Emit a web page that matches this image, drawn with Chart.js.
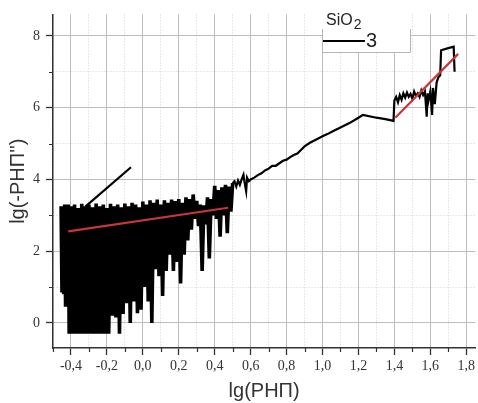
<!DOCTYPE html>
<html>
<head>
<meta charset="utf-8">
<script src="https://cdn.jsdelivr.net/npm/chart.js@4.4.0/dist/chart.umd.min.js"></script>
<style>
  html, body { margin: 0; padding: 0; background: #fff; }
  #wrap { width: 478px; height: 403px; position: relative; }
</style>
</head>
<body>
<div id="wrap"><canvas id="chart"></canvas></div>
<script>
// lg(-RNP'') vs lg(RNP), SiO2 sample 3

const noiseX = [
  -0.455, -0.45, -0.445, -0.44, -0.435, -0.43, -0.425, -0.42,
  -0.415, -0.41, -0.40, -0.39, -0.38, -0.37, -0.36, -0.35, -0.34, -0.33,
  -0.32, -0.31, -0.30, -0.29, -0.28, -0.27, -0.26, -0.25, -0.24, -0.23,
  -0.22, -0.21, -0.20, -0.19, -0.18, -0.17, -0.16, -0.15, -0.14, -0.13,
  -0.12, -0.11, -0.10, -0.09, -0.08, -0.07, -0.06, -0.05, -0.04, -0.03,
  -0.02, -0.01, 0.00, 0.01, 0.02, 0.03, 0.04, 0.05, 0.06, 0.07,
  0.08, 0.09, 0.10, 0.11, 0.12, 0.13, 0.14, 0.15, 0.16, 0.17,
  0.18, 0.19, 0.20, 0.21, 0.22, 0.23, 0.24, 0.25, 0.26, 0.27,
  0.28, 0.29, 0.30, 0.31, 0.32, 0.33, 0.34, 0.35, 0.36, 0.37,
  0.38, 0.39, 0.40, 0.41, 0.42, 0.43, 0.44, 0.45, 0.46, 0.47,
  0.48, 0.49, 0.50
];
const noiseY = [
  3.25, 0.85, 3.2, 0.8, 3.3, 0.45, 3.25, 0.45,
  3.3, -0.3, 3.25, -0.3, 3.3, -0.3, 3.2, -0.3, 3.32, -0.3,
  3.25, -0.3, 3.3, -0.3, 3.22, -0.3, 3.33, -0.3, 3.25, -0.3,
  3.3, -0.3, 3.2, -0.3, 3.32, 0.2, 3.25, 0.15, 3.3, -0.3,
  3.22, 0.25, 3.33, 0.55, 3.25, 0.0, 3.35, 0.6, 3.3, 0.27,
  3.22, 0.37, 3.38, 1.0, 3.3, 0.6, 3.42, 0.0, 3.35, 1.5,
  3.44, 1.3, 3.3, 0.75, 3.42, 1.45, 3.35, 1.9, 3.44, 1.45,
  3.4, 1.7, 3.45, 1.1, 3.35, 1.9, 3.5, 2.3, 3.45, 2.6,
  3.58, 2.9, 3.4, 2.7, 3.3, 1.45, 3.28, 2.75, 3.5, 1.8,
  3.45, 3.0, 3.82, 2.9, 3.7, 2.4, 3.78, 3.0, 3.85, 2.5,
  3.8, 3.1, 3.9
];

// Straight branch sticking out of the band
const branchX = [-0.32, -0.066];
const branchY = [3.24, 4.34];

// Smooth and high-frequency part of the curve
const curveX = [
  0.50, 0.51, 0.52, 0.53, 0.54, 0.55, 0.56, 0.565,
  0.575, 0.58, 0.59, 0.60, 0.62, 0.64, 0.66, 0.68, 0.70, 0.72,
  0.74, 0.76, 0.78, 0.80, 0.82, 0.84, 0.86, 0.88, 0.90, 0.93,
  0.96, 1.00, 1.03, 1.06, 1.10, 1.15, 1.20, 1.225, 1.30, 1.35,
  1.395, 1.40, 1.41, 1.42, 1.43, 1.44, 1.45, 1.46, 1.47, 1.48,
  1.49, 1.50, 1.51, 1.52, 1.53, 1.54, 1.55, 1.56, 1.57, 1.58,
  1.585, 1.59, 1.60, 1.61, 1.615, 1.625, 1.635, 1.645, 1.655, 1.66,
  1.70, 1.73, 1.735
];
const curveY = [
  3.9, 3.95, 3.8, 3.97, 3.85, 4.0, 4.13, 3.95,
  3.67, 4.05, 3.95, 4.0, 4.05, 4.12, 4.17, 4.25, 4.3, 4.38,
  4.38, 4.45, 4.52, 4.55, 4.62, 4.68, 4.72, 4.82, 4.92, 5.02,
  5.1, 5.2, 5.27, 5.35, 5.45, 5.57, 5.72, 5.8, 5.72, 5.68,
  5.63, 6.2, 6.3, 6.15, 6.35, 6.22, 6.4, 6.28, 6.42, 6.3,
  6.38, 6.25, 6.45, 6.33, 6.4, 6.3, 6.48, 6.35, 6.45, 5.75,
  6.4, 6.2, 6.45, 5.8, 6.55, 6.1, 6.7, 6.85, 6.9, 7.6,
  7.66, 7.7, 7.0
];

// Linear fits (red)
const fitLowX = [-0.415, 0.475];
const fitLowY = [2.55, 3.21];
const fitHighX = [1.405, 1.755];
const fitHighY = [5.72, 7.5];

const seriesName = '3';
const legendTitle = 'SiO';
const legendSub = '2';

const xTitle = 'lg(РНП)';
const yTitle = "lg(-РНП'')";

const toPoints = (xs, ys) => xs.map((x, i) => ({ x: x, y: ys[i] }));

const isMajorX = v => Math.abs(v * 5 - Math.round(v * 5)) < 1e-6;
const isMajorY = v => Math.abs(v / 2 - Math.round(v / 2)) < 1e-6;

const serifFont = '"Liberation Serif", "Times New Roman", serif';
const sansFont = '"Liberation Sans", Arial, sans-serif';

// short minor tick marks
const minorTicks = {
    id: 'minorTicks',
    afterDraw(chart) {
        const ctx = chart.ctx;
        const xs = chart.scales.x;
        const ys = chart.scales.y;
        ctx.save();
        ctx.strokeStyle = '#333';
        ctx.lineWidth = 1.2;
        ctx.beginPath();
        xs.ticks.forEach(t => {
            if (isMajorX(t.value)) return;
            const px = Math.round(xs.getPixelForValue(t.value)) + 0.5;
            ctx.moveTo(px, xs.top);
            ctx.lineTo(px, xs.top + 4);
        });
        ys.ticks.forEach(t => {
            if (isMajorY(t.value)) return;
            const py = Math.round(ys.getPixelForValue(t.value)) + 0.5;
            ctx.moveTo(ys.right, py);
            ctx.lineTo(ys.right - 4, py);
        });
        ctx.stroke();
        ctx.restore();
    }
};

// Origin style legend box in the top right
const legendBox = {
    id: 'legendBox',
    afterDraw(chart) {
        const ctx = chart.ctx;
        const area = chart.chartArea;
        const left = area.left + 269;
        const right = area.left + 357;
        const bottom = 52;

        ctx.save();
        ctx.fillStyle = '#fff';
        ctx.fillRect(left, 0, right - left, bottom);
        ctx.strokeStyle = '#b5b5b5';
        ctx.lineWidth = 1;
        ctx.beginPath();
        ctx.moveTo(left + 0.5, 29);
        ctx.lineTo(left + 0.5, bottom + 0.5);
        ctx.lineTo(right + 0.5, bottom + 0.5);
        ctx.lineTo(right + 0.5, 29);
        ctx.stroke();

        ctx.fillStyle = '#222';
        ctx.textBaseline = 'alphabetic';
        ctx.font = '16px ' + sansFont;
        ctx.fillText(legendTitle, left + 4, 25);
        const w = ctx.measureText(legendTitle).width;
        ctx.font = '14px ' + sansFont;
        ctx.fillText(legendSub, left + 5 + w, 28.5);

        const ds = chart.data.datasets.find(d => d.label === seriesName);
        ctx.strokeStyle = ds.borderColor;
        ctx.lineWidth = 2;
        ctx.beginPath();
        ctx.moveTo(left + 1, 41);
        ctx.lineTo(left + 43, 41);
        ctx.stroke();
        ctx.font = '20px ' + sansFont;
        ctx.fillText(ds.label, left + 44, 47);
        ctx.restore();
    }
};

new Chart(document.getElementById('chart'), {
    type: 'line',
    data: {
        datasets: [
            {
                label: 'fit1',
                data: toPoints(fitLowX, fitLowY),
                borderColor: 'rgb(200, 55, 55)',
                borderWidth: 2.2,
                pointRadius: 0
            },
            {
                label: 'fit2',
                data: toPoints(fitHighX, fitHighY),
                borderColor: 'rgb(200, 55, 55)',
                borderWidth: 2.2,
                pointRadius: 0
            },
            {
                label: seriesName,
                data: toPoints(curveX, curveY),
                borderColor: '#000',
                borderWidth: 2.2,
                pointRadius: 0
            },
            {
                label: 'band',
                data: toPoints(noiseX, noiseY),
                borderColor: '#000',
                borderWidth: 3.6,
                pointRadius: 0
            },
            {
                label: 'branch',
                data: toPoints(branchX, branchY),
                borderColor: '#000',
                borderWidth: 2.2,
                pointRadius: 0
            }
        ]
    },
    options: {
        responsive: true,
        maintainAspectRatio: false,
        animation: false,
        layout: { padding: { top: 10, right: 0, bottom: 0, left: 0 } },
        plugins: {
            legend: { display: false },
            tooltip: { enabled: false }
        },
        scales: {
            x: {
                type: 'linear',
                min: -0.5,
                max: 1.85,
                afterFit: scale => { scale.height = 55; },
                ticks: {
                    stepSize: 0.1,
                    includeBounds: false,
                    autoSkip: false,
                    maxRotation: 0,
                    padding: 3,
                    color: '#333',
                    font: { family: serifFont, size: 14 },
                    callback: v => isMajorX(v) ? (Math.round(v * 10) / 10).toFixed(1).replace('.', ',') : ''
                },
                grid: {
                    color: ctx => ctx.tick && isMajorX(ctx.tick.value) ? '#bdbdbd' : '#d2d2d2',
                    lineWidth: 1,
                    tickLength: 7,
                    tickWidth: 1.3,
                    tickColor: ctx => ctx.tick && isMajorX(ctx.tick.value) ? '#333' : 'rgba(0,0,0,0)'
                },
                border: {
                    color: '#333',
                    width: 1.5,
                    dash: ctx => ctx.tick && !isMajorX(ctx.tick.value) ? [1, 2] : []
                },
                title: {
                    display: true,
                    text: xTitle,
                    color: '#333',
                    font: { family: sansFont, size: 20 },
                    padding: { top: 0, bottom: 0 }
                }
            },
            y: {
                min: -0.7,
                max: 8.6,
                afterFit: scale => { scale.width = 53; },
                ticks: {
                    stepSize: 1,
                    includeBounds: false,
                    autoSkip: false,
                    padding: 6,
                    color: '#333',
                    font: { family: serifFont, size: 14 },
                    callback: v => isMajorY(v) ? String(Math.round(v)) : ''
                },
                grid: {
                    color: ctx => ctx.tick && isMajorY(ctx.tick.value) ? '#bdbdbd' : '#d2d2d2',
                    lineWidth: 1,
                    tickLength: 7,
                    tickWidth: 1.3,
                    tickColor: ctx => ctx.tick && isMajorY(ctx.tick.value) ? '#333' : 'rgba(0,0,0,0)'
                },
                border: {
                    color: '#333',
                    width: 1.5,
                    dash: ctx => ctx.tick && !isMajorY(ctx.tick.value) ? [1, 2] : []
                },
                title: {
                    display: true,
                    text: yTitle,
                    color: '#333',
                    font: { family: sansFont, size: 20 },
                    padding: { top: 6, bottom: 0 }
                }
            }
        }
    },
    plugins: [minorTicks, legendBox]
});
</script>
</body>
</html>
